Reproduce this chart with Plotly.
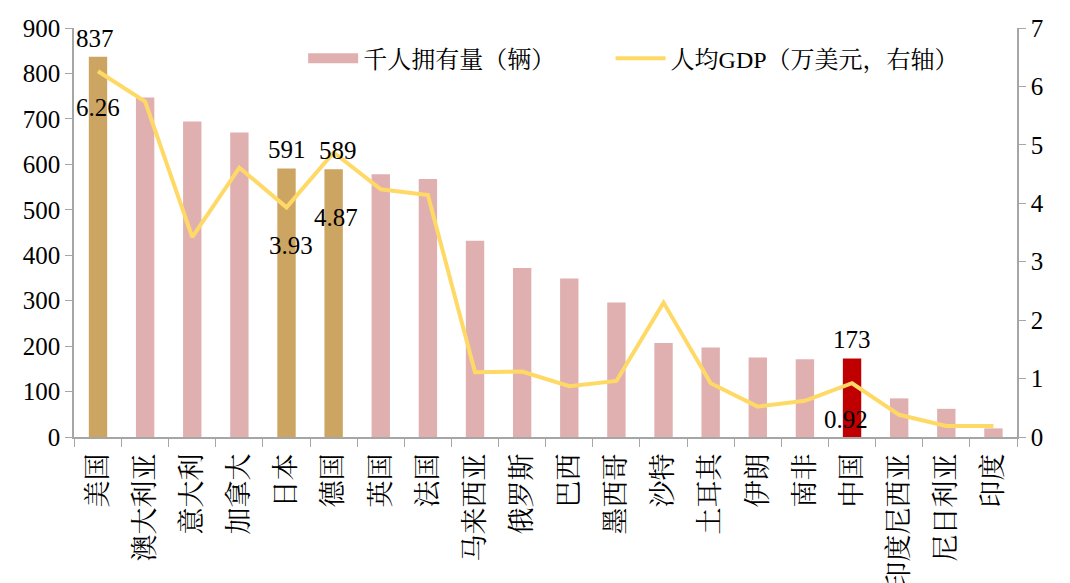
import plotly.graph_objects as go

countries = ["美国", "澳大利亚", "意大利", "加拿大", "日本", "德国", "英国", "法国", "马来西亚", "俄罗斯",
             "巴西", "墨西哥", "沙特", "土耳其", "伊朗", "南非", "中国", "印度尼西亚", "尼日利亚", "印度"]
cars_per_1000 = [837, 747, 694, 670, 591, 589, 578, 568, 432, 372,
                 349, 296, 207, 197, 175, 171, 173, 85, 62, 19]
gdp_per_capita = [6.26, 5.74, 3.42, 4.61, 3.93, 4.87, 4.24, 4.14, 1.11, 1.12,
                  0.87, 0.96, 2.30, 0.92, 0.52, 0.62, 0.92, 0.38, 0.19, 0.19]

PINK = "#E0B0B0"
GOLD = "#CDA562"
RED = "#C00000"
YELLOW = "#FFD966"
highlight_gold = {"美国", "日本", "德国"}
highlight_red = {"中国"}

pink_vals = [None if (c in highlight_gold or c in highlight_red) else v for c, v in zip(countries, cars_per_1000)]
hi_vals = [v if (c in highlight_gold or c in highlight_red) else None for c, v in zip(countries, cars_per_1000)]
hi_colors = [RED if c in highlight_red else GOLD for c in countries]

FONT = "Liberation Serif, 'Noto Serif CJK SC', 'Noto Sans CJK SC', serif"

fig = go.Figure()
fig.add_trace(go.Bar(x=countries, y=pink_vals, name="千人拥有量（辆）", showlegend=False,
                     marker=dict(color=PINK, line=dict(width=0)), width=0.39, yaxis="y"))
fig.add_trace(go.Bar(x=countries, y=hi_vals, name="千人拥有量（辆）", showlegend=False,
                     marker=dict(color=hi_colors, line=dict(width=0)), width=0.39, yaxis="y"))
# legend entry for the bars (wide pink swatch, like the original)
fig.add_trace(go.Scatter(x=[None], y=[None], name="千人拥有量（辆）", mode="lines",
                         line=dict(color=PINK, width=14), yaxis="y", legend="legend"))
fig.add_trace(go.Scatter(x=countries, y=gdp_per_capita, name="人均GDP（万美元，右轴）",
                         mode="lines", line=dict(color=YELLOW, width=4), yaxis="y2", legend="legend2"))

bar_labels = [("美国", 837, -3), ("日本", 591, 0), ("德国", 589, 4), ("中国", 173, 0)]
for c, v, dx in bar_labels:
    fig.add_annotation(x=c, y=v, yref="y", text=str(v), showarrow=False, yanchor="bottom",
                       yshift=3, xshift=dx, font=dict(family=FONT, size=25, color="black"))
line_labels = [("美国", 6.26, 0, -36), ("日本", 3.93, 4, -38), ("德国", 4.87, 2, -65), ("中国", 0.92, -6, -36)]
for c, v, dx, dy in line_labels:
    fig.add_annotation(x=c, y=v, yref="y2", text=f"{v:.2f}", showarrow=False, yanchor="middle",
                       yshift=dy, xshift=dx, font=dict(family=FONT, size=25, color="black"))

AX = "#A6A6A6"
leg_common = dict(orientation="h", y=0.925, xanchor="left", yanchor="middle",
                  font=dict(family=FONT, size=24), bgcolor="rgba(0,0,0,0)", itemwidth=50)
fig.update_layout(
    width=1070, height=583,
    margin=dict(l=66, r=61, t=20, b=154),
    plot_bgcolor="white", paper_bgcolor="white",
    font=dict(family=FONT, size=24, color="black"),
    barmode="overlay",
    showlegend=True,
    legend=dict(x=0.243, **leg_common),
    legend2=dict(x=0.569, **leg_common),
    xaxis=dict(type="category", tickangle=-90, showline=True, linecolor=AX, linewidth=1.5,
               ticks="outside", tickson="boundaries", ticklen=8, tickcolor=AX,
               showgrid=False, automargin=False, ticklabelstandoff=4,
               tickfont=dict(family=FONT, size=27)),
    yaxis=dict(range=[0, 900], dtick=100, showline=True, linecolor=AX, linewidth=1.5,
               ticks="outside", ticklen=7, tickcolor=AX, showgrid=False, zeroline=False,
               automargin=False, tickfont=dict(family=FONT, size=25)),
    yaxis2=dict(range=[0, 7], dtick=1, overlaying="y", side="right", showline=True,
                linecolor=AX, linewidth=1.5, ticks="outside", ticklen=7, tickcolor=AX,
                showgrid=False, zeroline=False, automargin=False, tickfont=dict(family=FONT, size=25)),
)

fig.write_html("out.html")
